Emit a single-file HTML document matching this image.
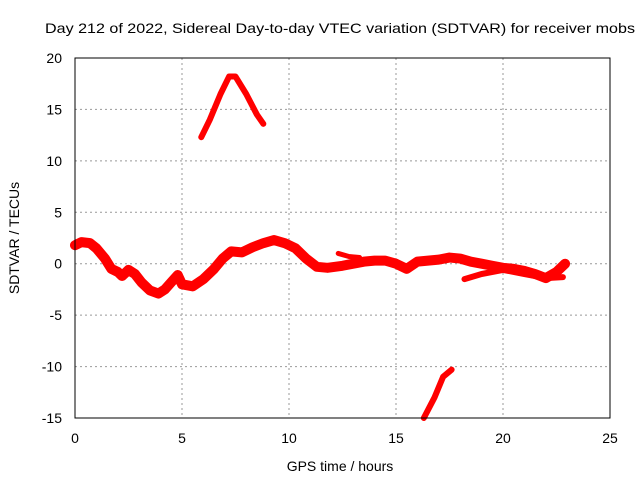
<!DOCTYPE html>
<html><head><meta charset="utf-8"><style>
body{margin:0;background:#fff}
svg text{font-family:"Liberation Sans",sans-serif;font-size:14px;fill:#000}
</style></head><body>
<svg width="640" height="480">
<text x="45" y="33" textLength="590" lengthAdjust="spacingAndGlyphs">Day 212 of 2022, Sidereal Day-to-day VTEC variation (SDTVAR) for receiver mobs</text>
<g id="grid"></g>
<g id="series"></g>
<rect x="75" y="58" width="535" height="360" fill="none" stroke="#000"/>
<g id="ticks"></g>
<text x="340" y="471" text-anchor="middle">GPS time / hours</text>
<text transform="translate(19,238) rotate(-90)" text-anchor="middle">SDTVAR / TECUs</text>
</svg>
<script>
const xTicks=[0,5,10,15,20,25];
const yTicks=[-15,-10,-5,0,5,10,15,20];
const mainT=[0,0.3,0.7,1.0,1.4,1.7,2.0,2.2,2.5,2.8,3.1,3.5,3.9,4.2,4.5,4.8,5.0,5.5,6.0,6.5,6.9,7.3,7.8,8.3,8.8,9.3,9.8,10.3,10.8,11.3,11.8,12.5,13.0,13.5,14.0,14.5,15.0,15.5,16.0,16.5,17.0,17.5,18.0,18.5,19.0,19.5,20.0,20.5,21.0,21.5,22.0,22.5,22.9];
const mainV=[1.8,2.1,2.0,1.5,0.5,-0.5,-0.8,-1.2,-0.6,-1.0,-1.8,-2.6,-2.9,-2.5,-1.8,-1.1,-2.0,-2.2,-1.5,-0.5,0.5,1.2,1.1,1.6,2.0,2.3,2.0,1.5,0.5,-0.3,-0.4,-0.2,0.0,0.2,0.3,0.3,0.0,-0.5,0.2,0.3,0.4,0.6,0.5,0.2,0.0,-0.2,-0.4,-0.5,-0.7,-1.0,-1.4,-0.8,0.0];
const lowT=[18.2,19.0,20.0,21.0,22.0,22.8];
const lowV=[-1.5,-1.0,-0.6,-1.0,-1.4,-1.3];
const branchT=[12.3,12.8,13.3];
const branchV=[1.0,0.7,0.6];
const arcT=[5.9,6.3,6.8,7.2,7.5,8.0,8.5,8.8];
const arcV=[12.3,14.0,16.5,18.2,18.2,16.5,14.5,13.6];
const dropT=[16.3,16.8,17.2,17.6];
const dropV=[-15,-13,-11,-10.3];
const NS='http://www.w3.org/2000/svg';
const X=t=>75+t*535/25, Y=v=>418-(v+15)*360/35;
function mk(tag,a,p){const e=document.createElementNS(NS,tag);for(const k in a)e.setAttribute(k,a[k]);p.appendChild(e);return e;}
const g=document.getElementById('grid'),tk=document.getElementById('ticks'),s=document.getElementById('series');
xTicks.forEach(t=>{
 if(t>0&&t<25){const l=mk('line',{x1:X(t),x2:X(t),y1:58,y2:418,stroke:'#999','stroke-dasharray':'2,3'},g);
 
 }
 const tx=mk('text',{x:X(t),y:443,'text-anchor':'middle'},tk);tx.textContent=t;
 
 
});
yTicks.forEach(v=>{
 if(v>-15&&v<20){const l=mk('line',{x1:75,x2:610,y1:Y(v),y2:Y(v),stroke:'#999','stroke-dasharray':'2,3'},g);
 
 }
 const tx=mk('text',{x:62,y:Y(v)+5,'text-anchor':'end'},tk);tx.textContent=v;
 
 
});
function line(T,V,name,w){const p=mk('polyline',{points:T.map((t,i)=>X(t)+','+Y(V[i])).join(' '),fill:'none',stroke:'#f00','stroke-width':w,'stroke-linejoin':'round','stroke-linecap':'round'},s);
 
 }
line(mainT,mainV,'main-series-line',10);
line(lowT,lowV,'lower-branch-line',6);
line(branchT,branchV,'upper-branch-line',5);
line(arcT,arcV,'arc-series-line',6);
line(dropT,dropV,'drop-series-line',6);
</script>
</body></html>
